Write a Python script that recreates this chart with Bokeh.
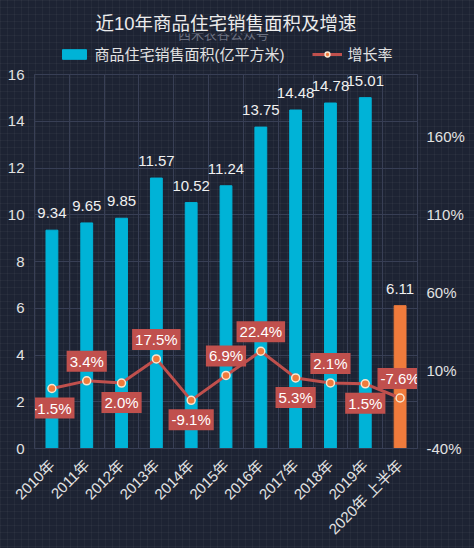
from bokeh.plotting import figure
from bokeh.layouts import column
from bokeh.models import (FactorRange, Range1d, LinearAxis, FixedTicker, PrintfTickFormatter,
                          ColumnDataSource, Legend, LegendItem, Title, Label,
                          GlobalInlineStyleSheet)
from bokeh.core.properties import value
from bokeh.embed import file_html
from bokeh.resources import INLINE
import math

# ---------------- data ----------------
categories = ["2010年", "2011年", "2012年", "2013年", "2014年", "2015年",
              "2016年", "2017年", "2018年", "2019年", "2020年 上半年"]
area = [9.34, 9.65, 9.85, 11.57, 10.52, 11.24, 13.75, 14.48, 14.78, 15.01, 6.11]
growth = [-1.5, 3.4, 2.0, 17.5, -9.1, 6.9, 22.4, 5.3, 2.1, 1.5, -7.6]
left_ticks = [0, 2, 4, 6, 8, 10, 12, 14, 16]
right_ticks = [-40, 10, 60, 110, 160]

title_text = "近10年商品住宅销售面积及增速"
subtitle_text = "西米农谷公众号"
bar_name = "商品住宅销售面积(亿平方米)"
line_name = "增长率"

# ---------------- style ----------------
BG = "#1d2333"
GRID = "#383f55"
TXT = "#e2e2e2"
CYAN = "#00b3d7"
ORANGE = "#ef7b3c"
RED = "#c0504d"
CREAM = "#f6e7d2"
FONT = "'Liberation Sans', 'Noto Sans CJK SC'"
label_side = [1, -1, 1, -1, 1, -1, -1, 1, -1, 1, -1]  # 1 = below point, -1 = above

bar_colors = [ORANGE if c.startswith("2020") else CYAN for c in categories]
src = ColumnDataSource(dict(
    cat=categories, area=area, growth=growth, color=bar_colors,
    area_lbl=[f"{v:.2f}" for v in area],
    growth_lbl=[f"{v:.1f}%" for v in growth],
    off=[s * 19.5 for s in label_side],
))

page_css = GlobalInlineStyleSheet(css=(
    "html, body { background-color: %s;"
    " background-image: linear-gradient(rgba(255,255,255,0.035) 1px, transparent 1px),"
    " linear-gradient(90deg, rgba(255,255,255,0.035) 1px, transparent 1px);"
    " background-size: 7px 7px; }" % BG))

# ---------------- header: title, subtitle, legend ----------------
HEAD_W, HEAD_H, HEAD_TOP, HEAD_LEFT = 474, 64, 33, 28
head = figure(width=HEAD_W, height=HEAD_H, output_backend="svg", toolbar_location=None,
              x_range=Range1d(HEAD_LEFT, HEAD_W), y_range=Range1d(0, HEAD_H - HEAD_TOP),
              x_axis_type=None, y_axis_type=None,
              min_border_left=HEAD_LEFT, min_border_right=0, min_border_bottom=0,
              min_border_top=HEAD_TOP)
head.background_fill_alpha = 0
head.border_fill_alpha = 0
head.outline_line_color = None
head.stylesheets = [page_css]
# legend swatches (single off-canvas sample so the legend draws its glyphs)
lg_bar = head.vbar(x=[-100], top=[-100], width=10, color=CYAN)
lg_line = head.line(x=[-100, -90], y=[-100, -100], line_color=RED, line_width=3)
lg_pts = head.scatter(x=[-100], y=[-100], size=8, fill_color=ORANGE,
                      line_color=CREAM, line_width=1.5)
legend = Legend(items=[LegendItem(label=bar_name, renderers=[lg_bar], index=0),
                       LegendItem(label=line_name, renderers=[lg_line, lg_pts], index=0)],
                orientation="horizontal", location="bottom_center",
                background_fill_alpha=0, border_line_color=None,
                label_text_color=TXT, label_text_font_size="15px", label_text_font=FONT,
                glyph_width=30, glyph_height=12, label_standoff=6, spacing=27,
                padding=0, margin=0, label_height=17)
head.add_layout(legend)
head.add_layout(Label(x=248, y=HEAD_H - 34, text=subtitle_text,
                      text_align="center", text_baseline="middle",
                      text_font_size="13px", text_color="#6d7282", text_font=FONT))
head.add_layout(Title(text=title_text, align="center", text_font_size="18.5px",
                      text_color="#ececec", text_font=FONT, text_font_style="normal",
                      standoff=0), "above")

# ---------------- main chart ----------------
p = figure(x_range=FactorRange(factors=categories), y_range=Range1d(0, 16),
           width=474, height=548 - HEAD_H, output_backend="svg", toolbar_location=None,
           min_border_left=34, min_border_right=57, min_border_top=10, min_border_bottom=100)
p.extra_y_ranges = {"pct": Range1d(-40, 200)}
p.background_fill_alpha = 0
p.border_fill_alpha = 0
p.outline_line_color = GRID

p.ygrid.ticker = FixedTicker(ticks=left_ticks)
p.ygrid.grid_line_color = GRID
p.xgrid.ticker = FixedTicker(ticks=list(range(len(categories) + 1)))
p.xgrid.grid_line_color = GRID

def style_axis(ax):
    ax.axis_line_color = GRID
    ax.major_tick_line_color = None
    ax.minor_tick_line_color = None
    ax.major_tick_out = 0
    ax.major_tick_in = 0
    ax.major_label_text_color = TXT
    ax.major_label_text_font_size = "15px"
    ax.major_label_text_font = FONT

p.yaxis.ticker = FixedTicker(ticks=left_ticks)
style_axis(p.yaxis[0])
p.yaxis[0].major_label_standoff = 10

raxis = LinearAxis(y_range_name="pct", ticker=FixedTicker(ticks=right_ticks),
                   formatter=PrintfTickFormatter(format="%d%%"))
style_axis(raxis)
raxis.major_label_standoff = 9
p.add_layout(raxis, "right")

style_axis(p.xaxis[0])
p.xaxis[0].major_label_orientation = math.pi / 4
p.xaxis[0].major_label_standoff = 14

bars = p.vbar(x="cat", top="area", width=0.34, color="color", source=src)
p.text(x="cat", y="area", text="area_lbl", source=src, text_align="center",
       text_baseline="alphabetic", y_offset=-17, text_color="#f0f0f0",
       text_font_size="15px", text_font=value("Liberation Sans"))

line_r = p.line(x="cat", y="growth", source=src, y_range_name="pct",
                line_color=RED, line_width=3)
pts = p.scatter(x="cat", y="growth", source=src, y_range_name="pct", size=8,
                fill_color=ORANGE, line_color=CREAM, line_width=1.5)
p.text(x="cat", y="growth", text="growth_lbl", source=src, y_range_name="pct",
       y_offset="off", text_align="center", text_baseline="middle",
       text_color="#ffffff", text_font_size="15px", text_font=value("Liberation Sans"),
       background_fill_color=RED, padding=dict(left=3, right=3, top=2, bottom=2))

layout = column(head, p, spacing=0)
open("out.html", "w").write(file_html(layout, INLINE))
